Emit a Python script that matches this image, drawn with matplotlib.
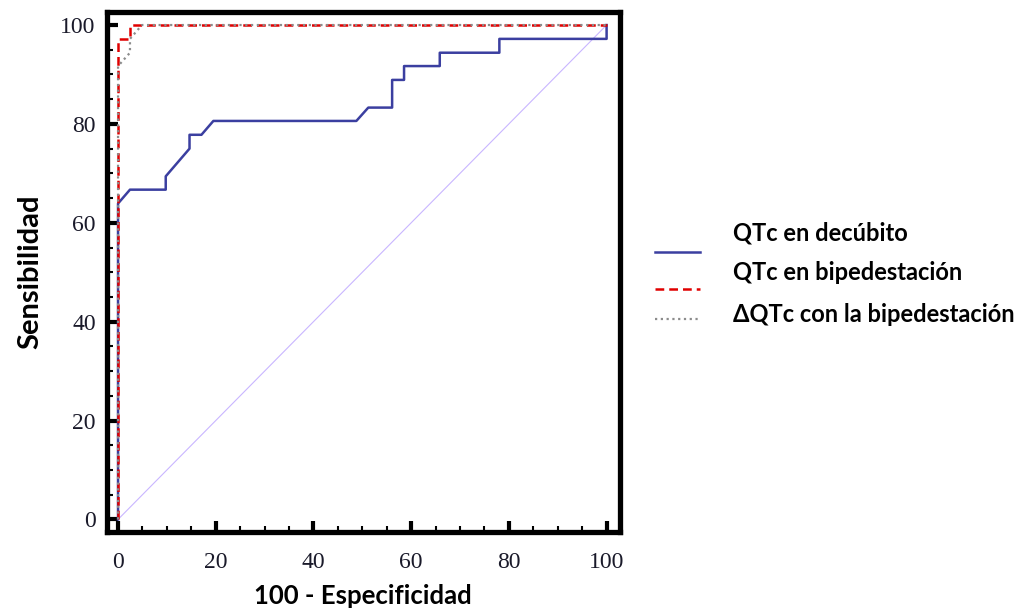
import matplotlib.pyplot as plt
from matplotlib.lines import Line2D
from matplotlib.ticker import MultipleLocator

# Curvas ROC (100 - especificidad, sensibilidad)
decubito_x = [0, 0, 2.44, 9.76, 9.76, 14.63, 14.63, 17.07, 19.51, 48.78, 51.22, 56.10, 56.10, 58.54, 58.54, 65.85, 65.85, 78.05, 78.05, 100, 100]
decubito_y = [0, 63.9, 66.7, 66.7, 69.4, 75.0, 77.8, 77.8, 80.6, 80.6, 83.3, 83.3, 88.9, 88.9, 91.7, 91.7, 94.4, 94.4, 97.2, 97.2, 100]

bipedestacion_x = [0, 0, 2.44, 2.44, 100]
bipedestacion_y = [0, 97.2, 97.2, 100, 100]

delta_x = [0, 0, 2.44, 2.44, 4.88, 100]
delta_y = [0, 91.7, 94.4, 97.2, 100, 100]

series = ['QTc en decúbito', 'QTc en bipedestación', '\u0394QTc con la bipedestación']
ticks = [0, 20, 40, 60, 80, 100]

fig = plt.figure(figsize=(10.27, 6.09), dpi=100)
ax = fig.add_axes([0.104, 0.126, 0.4995, 0.854])

ax.plot([0, 100], [0, 100], color='#c9b6ff', lw=0.8, zorder=1)
ax.plot(decubito_x, decubito_y, color='#3b3fa0', lw=1.8, zorder=2)
ax.plot(bipedestacion_x, bipedestacion_y, color='#e00000', lw=1.8, ls=(0, (3.5, 2)), zorder=3)
ax.plot(delta_x, delta_y, color='#8c8c8c', lw=1.6, ls=(0, (1, 1.6)), zorder=4)

ax.set_xlim(-2.3, 102.7)
ax.set_ylim(-2.6, 102.6)
ax.set_xticks(ticks)
ax.set_yticks(ticks)
ax.xaxis.set_minor_locator(MultipleLocator(5))
ax.yaxis.set_minor_locator(MultipleLocator(5))
ax.tick_params(which='major', direction='in', length=8, width=3, labelsize=17,
               top=False, right=False, labelfontfamily='Liberation Serif', labelcolor='#1a1a2a')
ax.tick_params(axis='x', which='major', pad=14)
ax.tick_params(axis='y', which='major', pad=8)
ax.tick_params(which='minor', direction='in', length=4, width=1.5, top=False, right=False)
for s in ax.spines.values():
    s.set_linewidth(3.8)

ax.set_xlabel('100 - Especificidad', fontsize=18.5, fontweight='bold', family='Lato', labelpad=8)
ax.set_ylabel('Sensibilidad', fontsize=21, fontweight='bold', family='Lato', labelpad=12)

# leyenda a la derecha
estilos = [dict(color='#3b3fa0', lw=1.8), dict(color='#e00000', lw=1.8, ls=(0, (3.5, 2))),
           dict(color='#8c8c8c', lw=1.6, ls=(0, (1, 1.6)))]
linea_y = [252, 289, 319]
texto_y = [233, 272, 315]
for nombre, estilo, ly, ty in zip(series, estilos, linea_y, texto_y):
    fig.add_artist(Line2D([655 / 1027, 700 / 1027], [1 - ly / 609, 1 - ly / 609],
                          transform=fig.transFigure, **estilo))
    fig.text(733 / 1027, 1 - ty / 609, nombre, fontsize=17, fontweight='bold',
             family=['Lato', 'DejaVu Sans'], va='center', ha='left')

fig.savefig('out.png', dpi=100)
